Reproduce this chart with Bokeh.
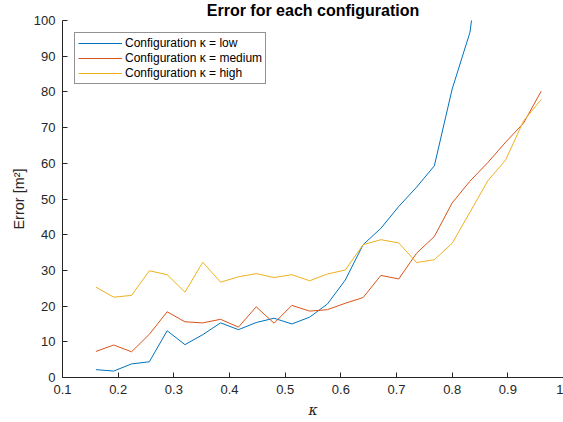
from bokeh.plotting import figure
from bokeh.models import FixedTicker, Legend, LegendItem, Range1d
from bokeh.embed import file_html
from bokeh.resources import INLINE

kappa = [0.16, 0.192, 0.224, 0.256, 0.288, 0.32, 0.352, 0.384, 0.416, 0.448,
         0.48, 0.512, 0.544, 0.576, 0.608, 0.64, 0.672, 0.704, 0.736, 0.768,
         0.8, 0.832, 0.864, 0.896, 0.928, 0.96]

err_low = [2.2, 1.8, 3.8, 4.4, 13.1, 9.2, 12.0, 15.3, 13.4, 15.4,
           16.6, 15.0, 16.9, 20.6, 27.3, 37.2, 41.8, 47.9, 53.3, 59.3,
           80.8, 96.7, 135.0]
err_medium = [7.3, 9.1, 7.2, 12.1, 18.4, 15.6, 15.3, 16.3, 14.1, 19.8,
              15.2, 20.2, 18.6, 19.0, 20.8, 22.4, 28.6, 27.6, 34.8, 39.5,
              48.9, 55.0, 60.2, 65.9, 71.2, 80.2]
err_high = [25.3, 22.5, 23.0, 29.9, 28.8, 23.9, 32.3, 26.7, 28.2, 29.1,
            28.0, 28.8, 27.1, 29.0, 30.1, 37.2, 38.6, 37.7, 32.2, 33.0,
            37.6, 46.3, 55.1, 60.9, 71.8, 77.9]

x_ticks = [0.1, 0.2, 0.3, 0.4, 0.5, 0.6, 0.7, 0.8, 0.9, 1.0]
x_tick_labels = ["0.1", "0.2", "0.3", "0.4", "0.5", "0.6", "0.7", "0.8", "0.9", "1"]
y_ticks = [0, 10, 20, 30, 40, 50, 60, 70, 80, 90, 100]

series_names = ["Configuration \u03ba = low", "Configuration \u03ba = medium", "Configuration \u03ba = high"]
colors = ["#0072BD", "#D95319", "#EDB120"]

FONT = "Liberation Sans"
AX = "#262626"

p = figure(width=563, height=422, output_backend="svg", toolbar_location=None,
           x_range=Range1d(0.1, 1.0), y_range=Range1d(0, 100),
           min_border_left=62, min_border_right=0, min_border_top=20, min_border_bottom=45)
p.title.text = "Error for each configuration"
p.title.text_font = FONT
p.title.text_font_size = "16px"
p.title.text_font_style = "bold"
p.title.align = "center"
p.title.vertical_align = "top"
p.title.text_color = "#000000"
p.title.standoff = 0
p.title.offset = 0

p.outline_line_color = None
p.xgrid.visible = False
p.ygrid.visible = False

renderers = []
xs = [kappa[:len(err_low)], kappa, kappa]
for xv, yv, c in zip(xs, [err_low, err_medium, err_high], colors):
    r = p.line(xv, yv, line_color=c, line_width=1)
    renderers.append(r)

for ax in (p.xaxis[0], p.yaxis[0]):
    ax.axis_line_color = AX
    ax.axis_line_width = 1
    ax.major_tick_line_color = AX
    ax.major_tick_in = 5
    ax.major_tick_out = 0
    ax.minor_tick_line_color = None
    ax.major_label_text_font = FONT
    ax.major_label_text_font_size = "13px"
    ax.major_label_text_color = AX
    ax.axis_label_text_color = AX
    ax.axis_label_text_font_style = "normal"

p.xaxis.ticker = FixedTicker(ticks=x_ticks)
p.xaxis.major_label_overrides = {t: l for t, l in zip(x_ticks, x_tick_labels)}
p.xaxis.major_label_standoff = 7
p.xaxis.axis_label = "\u03ba"
p.xaxis.axis_label_text_font = "DejaVu Serif"
p.xaxis.axis_label_text_font_style = "italic"
p.xaxis.axis_label_text_font_size = "14px"
p.xaxis.axis_label_standoff = 5

p.yaxis.ticker = FixedTicker(ticks=y_ticks)
p.yaxis.major_label_standoff = 7
p.yaxis.axis_label = "Error [m\u00b2]"
p.yaxis.axis_label_text_font = FONT
p.yaxis.axis_label_text_font_size = "14.5px"
p.yaxis.axis_label_standoff = 4

legend = Legend(items=[LegendItem(label=n, renderers=[r]) for n, r in zip(series_names, renderers)],
                location="top_left", margin=12, padding=3, spacing=1,
                glyph_height=14, glyph_width=44, label_height=14, label_standoff=3,
                label_text_font=FONT, label_text_font_size="12px", label_text_color="#000000",
                border_line_color=AX, border_line_width=1, background_fill_color="white",
                background_fill_alpha=1.0)
p.add_layout(legend)

open("out.html", "w").write(file_html(p, INLINE))
